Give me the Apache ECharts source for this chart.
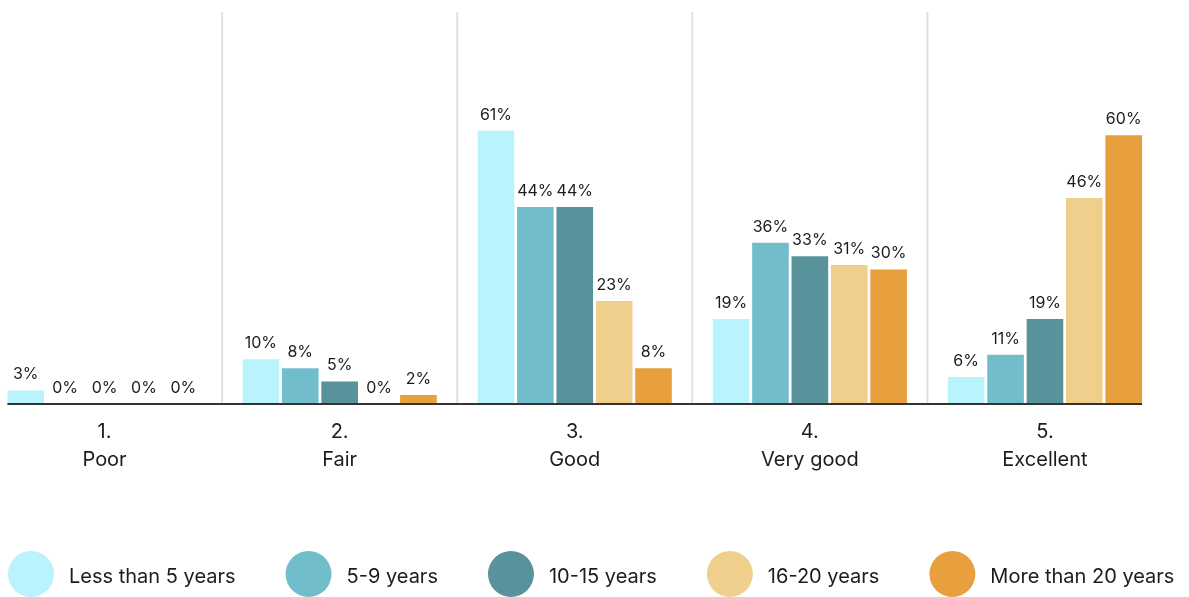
<!DOCTYPE html>
<html>
<head>
<meta charset="utf-8">
<title>Rating by tenure</title>
<script src="https://cdn.jsdelivr.net/npm/echarts@6/dist/echarts.min.js"></script>
<style>
  html, body { margin: 0; padding: 0; background: #ffffff; overflow: hidden; }
  body { width: 1189px; height: 597px; position: relative; }
  /* the plot bleeds slightly past the left edge of the page */
  #chart { position: absolute; left: -13px; top: 0; width: 1202px; height: 597px; }
</style>
</head>
<body>
<div id="chart"></div>
<script>
// Rating categories shown along the x axis
const categories = ['1.\nPoor', '2.\nFair', '3.\nGood', '4.\nVery good', '5.\nExcellent'];

// Tenure groups (legend entries)
const groupNames = ['Less than 5 years', '5-9 years', '10-15 years', '16-20 years', 'More than 20 years'];

// Share of respondents (%) per rating, one array per tenure group
const lessThan5 = [3, 10, 61, 19, 6];
const years5to9 = [0, 8, 44, 36, 11];
const years10to15 = [0, 5, 44, 33, 19];
const years16to20 = [0, 0, 23, 31, 46];
const moreThan20 = [0, 2, 8, 30, 60];

const seriesValues = [lessThan5, years5to9, years10to15, years16to20, moreThan20];
const colors = ['#b9f3fc', '#72bdcb', '#58929b', '#f0cf8d', '#e89f3e'];

const FONT = 'Inter, "Noto Sans", sans-serif';
const TEXT = '#1c1c1c';
const CATEGORY_GAP = 0.174;
const BAR_GAP = 0.075;
const Y_MAX = 87.5;

const chart = echarts.init(document.getElementById('chart'), null, { renderer: 'canvas' });

const series = seriesValues.map((vals, i) => ({
  name: groupNames[i],
  type: 'bar',
  data: vals,
  barGap: (BAR_GAP * 100) + '%',
  barCategoryGap: (CATEGORY_GAP * 100) + '%',
  itemStyle: { color: colors[i] },
  label: {
    show: true,
    position: 'top',
    distance: 8,
    formatter: '{c}%',
    fontFamily: FONT,
    fontSize: 16,
    color: TEXT
  },
  z: 3
}));

chart.setOption({
  animation: false,
  color: colors,
  grid: { left: 0, right: 26.5, top: 12, bottom: 193, containLabel: false },
  xAxis: {
    type: 'category',
    data: categories,
    axisLine: { show: false },
    axisTick: { show: false },
    splitLine: { show: false },
    axisLabel: {
      margin: 14,
      fontFamily: FONT,
      fontSize: 20,
      lineHeight: 28,
      color: TEXT,
      align: 'center'
    }
  },
  yAxis: {
    type: 'value',
    min: 0,
    max: Y_MAX,
    show: false,
    splitLine: { show: false }
  },
  legend: {
    left: 21,
    top: 551,
    padding: 0,
    icon: 'circle',
    itemWidth: 46,
    itemHeight: 46,
    itemGap: 50,
    formatter: name => '{t|' + name + '}',
    textStyle: {
      fontFamily: FONT,
      fontSize: 20,
      color: TEXT,
      rich: {
        t: {
          fontFamily: FONT,
          fontSize: 20,
          color: TEXT,
          padding: [6, 0, 0, 10]
        }
      }
    },
    data: groupNames
  },
  series: series
});

// Separators between rating groups and the baseline under the bars,
// both derived from the axis layout
function drawFrame() {
  const centers = categories.map((_, i) => chart.convertToPixel({ xAxisIndex: 0 }, i));
  const y0 = chart.convertToPixel({ yAxisIndex: 0 }, 0);
  const yTop = chart.convertToPixel({ yAxisIndex: 0 }, Y_MAX);
  const band = centers[1] - centers[0];
  const half = band * (1 - CATEGORY_GAP) / 2;
  const elements = [];
  for (let i = 0; i < centers.length - 1; i++) {
    const x = (centers[i] + centers[i + 1]) / 2;
    elements.push({
      type: 'line',
      shape: { x1: x, y1: yTop, x2: x, y2: y0 },
      style: { stroke: '#e0e0e0', lineWidth: 2 },
      z: 1
    });
  }
  elements.push({
    type: 'line',
    shape: { x1: centers[0] - half, y1: y0, x2: centers[centers.length - 1] + half, y2: y0 },
    style: { stroke: '#333333', lineWidth: 2 },
    z: 10
  });
  chart.setOption({ graphic: elements });
}
drawFrame();
</script>
</body>
</html>
